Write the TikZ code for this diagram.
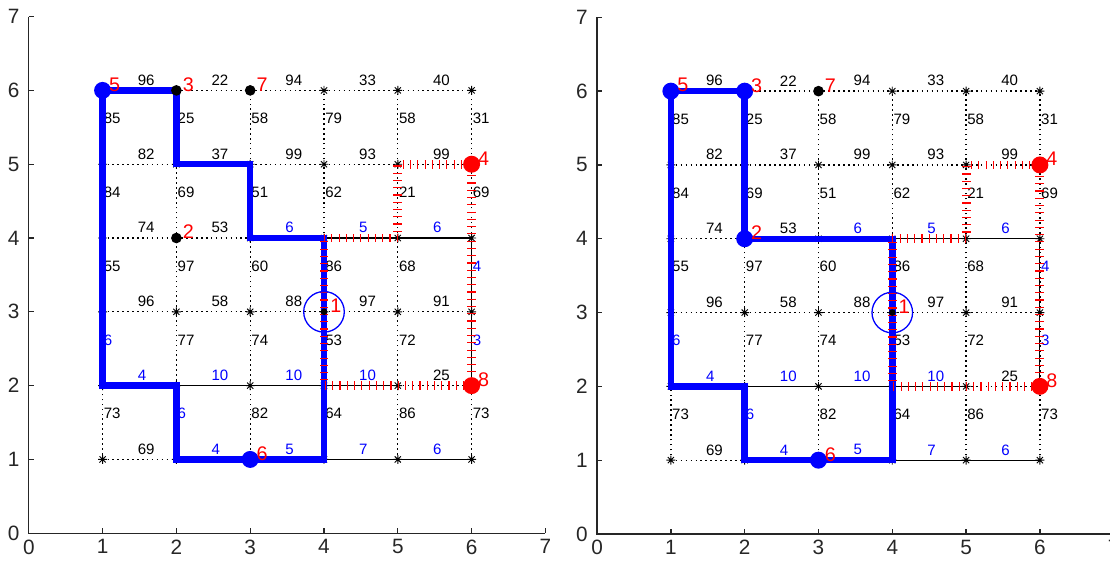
\documentclass[tikz,border=0pt]{standalone}
\usepackage{fontspec}
\setmainfont{Liberation Sans}
\definecolor{mlBlue}{HTML}{0000FF}
\definecolor{mlRed}{HTML}{FF0000}
\definecolor{mlAxis}{HTML}{262626}

\begin{document}
\begin{tikzpicture}[
  asterisk/.pic={\draw[line width=0.35pt] (-0.06,0) -- (0.06,0) (0,-0.06) -- (0,0.06)
                 (-0.042,-0.042) -- (0.042,0.042) (-0.042,0.042) -- (0.042,-0.042);},
  dotedge/.style={black, line width=0.5pt, dash pattern=on 0.6pt off 1.3pt},
  fulledge/.style={black, line width=0.45pt},
  weight/.style={font=\fontsize{5.8}{7}\selectfont, inner sep=0pt, anchor=west},
  vertexno/.style={font=\fontsize{7.6}{9}\selectfont, text=mlRed, inner sep=0pt, anchor=west},
  ticklbl/.style={font=\fontsize{8}{9}\selectfont, text=mlAxis, inner sep=0pt},
  tour/.style={mlBlue, line width=2.5pt},
  cut/.style={mlRed, line width=0.12cm, dash pattern=on 0.45pt off 2.35pt},
  bigdot/.style={circle, inner sep=0pt, minimum size=0.23cm},
  smalldot/.style={circle, fill=black, inner sep=0pt, minimum size=0.145cm},
]
\useasboundingbox (0,0) rectangle (15.04,7.615);

\foreach \p/\ox/\oy/\route/\bluedots/\blackdots in
  {L/0.39/0.39/{26,25,35,34,44,41,21,22,12}/{16,31}/{26,36,24},
   R/8.09/0.38/{26,24,44,41,21,22,12}/{16,26,24,31}/{36}} {
\begin{scope}[shift={(\ox,\oy)}]
  % axes
  \draw[mlAxis, line width=0.5pt] (0,7) -- (0,0) -- (7,0);
  \foreach \t in {0,...,7} {
    \draw[mlAxis, line width=0.5pt] (\t,0) -- (\t,0.07) (0,\t) -- (0.07,\t);
    \node[ticklbl, anchor=north] (\p x\t) at (\t,-0.08) {\t};
    \node[ticklbl, anchor=east] (\p y\t) at (-0.12,\t) {\t};
  }

  % grid
  \foreach \x in {1,...,6} \foreach \y in {1,...,6}
    \coordinate (\p\x\y) at (\x,\y);
  \foreach \x in {1,...,6} {
    \foreach \y [evaluate=\y as \yn using int(\y+1)] in {1,...,5} {
      \draw[dotedge] (\p\x\y) -- (\p\x\yn);
    }
  }
  \foreach \y in {1,...,6} {
    \foreach \x [evaluate=\x as \xn using int(\x+1)] in {1,...,5} {
      \draw[dotedge] (\p\x\y) -- (\p\xn\y);
    }
  }

  % weights, black on dotted edges
  \foreach \x/\y/\w in {1/6/96,2/6/22,3/6/94,4/6/33,5/6/40,1/5/82,2/5/37,3/5/99,4/5/93,
                        5/5/99,1/4/74,2/4/53,1/3/96,2/3/58,3/3/88,4/3/97,5/3/91,5/2/25,1/1/69}
    \node[weight] (\p h\x\y) at ([shift={(0.47,0.14)}]\p\x\y) {\w};
  \foreach \x/\y/\w in {1/5/85,1/4/84,1/3/55,1/1/73,2/5/25,2/4/69,2/3/97,2/2/77,
                        3/5/58,3/4/51,3/3/60,3/2/74,3/1/82,4/5/79,4/4/62,4/3/86,4/2/53,4/1/64,
                        5/5/58,5/4/21,5/3/68,5/2/72,5/1/86,6/5/31,6/4/69,6/1/73}
    \node[weight] (\p v\x\y) at ([shift={(0.01,0.62)}]\p\x\y) {\w};

  % weights, blue on full edges
  \foreach \x/\y/\w [evaluate=\x as \xn using int(\x+1)] in
      {3/4/6,4/4/5,5/4/6,1/2/4,2/2/10,3/2/10,4/2/10,2/1/4,3/1/5,4/1/7,5/1/6} {
    \draw[fulledge] (\p\x\y) -- (\p\xn\y);
    \node[weight, text=mlBlue] (\p h\x\y) at ([shift={(0.47,0.14)}]\p\x\y) {\w};
  }
  \foreach \x/\y/\w [evaluate=\y as \yn using int(\y+1)] in {1/2/6,2/1/6,6/3/4,6/2/3} {
    \draw[fulledge] (\p\x\y) -- (\p\x\yn);
    \node[weight, text=mlBlue] (\p v\x\y) at ([shift={(0.01,0.62)}]\p\x\y) {\w};
  }

  \foreach \x in {1,...,6} \foreach \y in {1,...,6}
    \pic at (\p\x\y) {asterisk};

  % tour and cut
  \draw[tour] (\p16) \foreach \c in \route {-- (\p\c)} -- cycle;
  \draw[cut] (\p44) -- (\p54) -- (\p55) -- (\p65) -- (\p62) -- (\p42) -- cycle;

  % vertices
  \foreach \c in \bluedots \node[bigdot, fill=mlBlue] (\p b\c) at (\p\c) {};
  \foreach \c in \blackdots \node[smalldot] (\p k\c) at (\p\c) {};
  \foreach \c in {65,62} \node[bigdot, fill=mlRed] (\p r\c) at (\p\c) {};
  \node[circle, draw=mlBlue, line width=0.5pt, minimum size=0.55cm, inner sep=0pt] (\p ring) at (\p43) {};
  \node[smalldot, minimum size=0.09cm] (\p hub) at (\p43) {};
  \foreach \c/\n in {43/1,24/2,26/3,65/4,16/5,31/6,36/7,62/8}
    \node[vertexno] (\p n\n) at ([shift={(0.08,0.08)}]\p\c) {\n};
\end{scope}
}
\end{tikzpicture}
\end{document}
